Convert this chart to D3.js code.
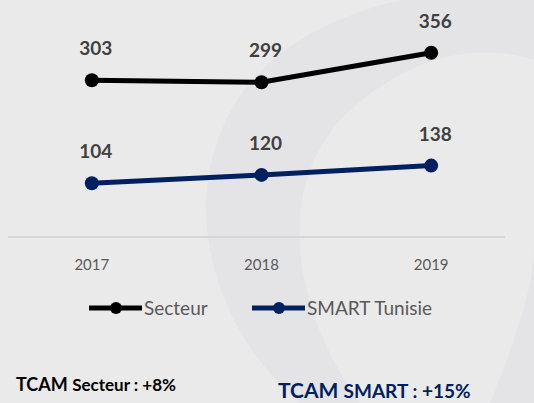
<!DOCTYPE html>
<html>
<head>
<meta charset="utf-8">
<script src="https://cdn.jsdelivr.net/npm/d3@7"></script>
<style>
  body { margin: 0; background: #e9e9ea; }
  svg { display: block; font-family: Lato, "Open Sans", sans-serif; }
</style>
</head>
<body>
<svg id="chart" width="534" height="403"></svg>
<script>
'use strict'

var years = ["2017", "2018", "2019"],
    secteur = [303, 299, 356],
    smart = [104, 120, 138],
    seriesNames = ["Secteur", "SMART Tunisie"],
    seriesColors = ["#000000", "#002060"];

var width = 534,
    height = 403;

var svg = d3.select("#chart");

// faint watermark in background
var bg = svg.append("g");
bg.append("rect").attr("width", width).attr("height", height).attr("fill", "#eaeaea");
bg.append("path")
    .attr("d", "M 300 403 C 180 300, 170 120, 300 40 C 360 5, 420 -10, 470 0 L 534 0 L 534 60 C 470 40, 400 60, 340 120 C 270 200, 300 320, 360 403 Z")
    .attr("fill", "#e4e4e7");
bg.append("path")
    .attr("d", "M 490 403 C 520 330, 534 280, 534 250 L 534 403 Z")
    .attr("fill", "#e4e4e7");

var x = d3.scalePoint()
    .domain(years)
    .range([7, 516])
    .padding(0.5);

var y = d3.scaleLinear()
    .domain([0, 400])
    .range([237, 30]);

// baseline
svg.append("line")
    .attr("x1", 8).attr("x2", 505)
    .attr("y1", y(0)).attr("y2", y(0))
    .attr("stroke", "#d6d6d6").attr("stroke-width", 2);

// year labels
svg.append("g").selectAll("text")
  .data(years)
  .enter().append("text")
    .attr("x", function(d) { return x(d); })
    .attr("y", 270)
    .attr("text-anchor", "middle")
    .attr("font-size", 15)
    .attr("fill", "#595959")
    .text(function(d) { return d; });

var line = d3.line()
    .x(function(d, i) { return x(years[i]); })
    .y(function(d) { return y(d); });

[secteur, smart].forEach(function(values, k) {
  var g = svg.append("g");
  g.append("path")
      .datum(values)
      .attr("d", line)
      .attr("fill", "none")
      .attr("stroke", seriesColors[k])
      .attr("stroke-width", 5);
  g.selectAll("circle")
    .data(values)
    .enter().append("circle")
      .attr("cx", function(d, i) { return x(years[i]); })
      .attr("cy", function(d) { return y(d); })
      .attr("r", 7)
      .attr("fill", seriesColors[k]);
  g.selectAll("text")
    .data(values)
    .enter().append("text")
      .attr("x", function(d, i) { return x(years[i]) + 4; })
      .attr("y", function(d) { return y(d) - 25; })
      .attr("text-anchor", "middle")
      .attr("font-size", 19)
      .attr("font-weight", "bold")
      .attr("fill", "#404040")
      .text(function(d) { return d; });
});

// legend
var legend = svg.append("g");
var legendX = [89, 252];
seriesNames.forEach(function(name, k) {
  var lg = legend.append("g").attr("transform", "translate(" + legendX[k] + ",308)");
  lg.append("line")
      .attr("x1", 0).attr("x2", 53)
      .attr("stroke", seriesColors[k]).attr("stroke-width", 5);
  lg.append("circle").attr("cx", 27).attr("r", 6).attr("fill", seriesColors[k]);
  lg.append("text")
      .attr("x", 55).attr("y", 7)
      .attr("font-size", 19)
      .attr("fill", "#595959")
      .text(name);
});

// TCAM notes
var t1 = svg.append("text").attr("x", 16).attr("y", 391).attr("font-weight", "bold").attr("fill", "#000");
t1.append("tspan").attr("font-size", 18).text("TCAM ");
t1.append("tspan").attr("font-size", 17).text("Secteur : +8%");

var t2 = svg.append("text").attr("x", 278).attr("y", 398).attr("font-weight", "bold").attr("fill", "#002060");
t2.append("tspan").attr("font-size", 21).text("TCAM ");
t2.append("tspan").attr("font-size", 19).text("SMART : +15%");
</script>
</body>
</html>
